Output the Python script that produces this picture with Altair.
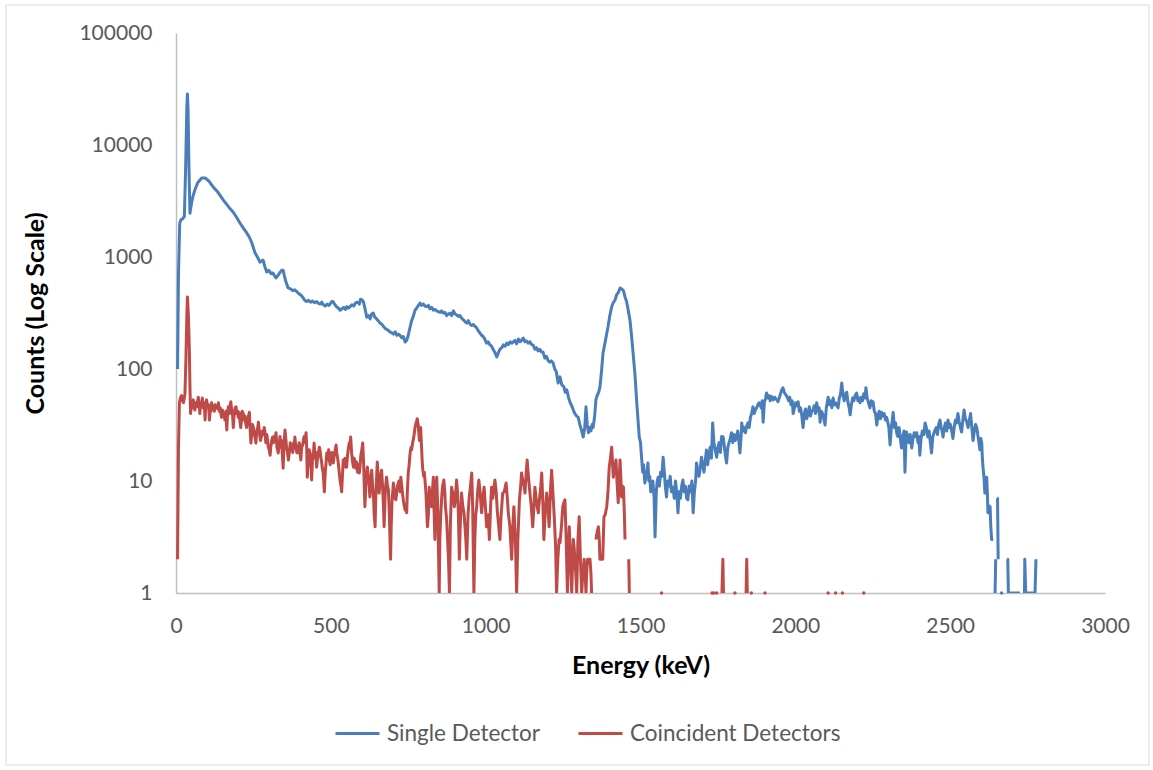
import altair as alt
import pandas as pd

# ---------------- data ----------------
single_E = [5, 8, 12, 16, 22, 27, 31, 35, 37, 39, 42, 45, 50, 55, 61, 70, 83, 94, 105, 120, 135, 153, 170, 185, 196, 207,
            218, 229, 237, 245, 255, 263, 271, 281, 287, 293, 300, 307, 313, 318, 323, 330, 336, 341, 346, 350, 355, 362,
            370, 377, 383, 390, 397, 404, 411, 416, 422, 428, 435, 441, 447, 454, 460, 466, 471, 476, 482, 488, 493, 499,
            503, 507, 512, 518, 524, 530, 536, 542, 547, 552, 557, 562, 568, 574, 580, 586, 592, 596, 600, 605, 610, 616,
            622, 627, 632, 637, 642, 648, 653, 659, 665, 670, 676, 681, 687, 691, 697, 702, 708, 713, 718, 723, 729, 734,
            740, 745, 750, 756, 761, 767, 772, 777, 783, 788, 793, 799, 804, 809, 815, 820, 826, 831, 837, 842, 847, 853,
            858, 863, 869, 874, 880, 885, 890, 896, 901, 906, 912, 917, 922, 928, 933, 939, 944, 950, 955, 960, 966, 971,
            976, 981, 987, 992, 997, 1003, 1008, 1013, 1019, 1024, 1030, 1036, 1041, 1046, 1052, 1057, 1063, 1068, 1073,
            1079, 1084, 1089, 1095, 1100, 1106, 1111, 1116, 1121, 1127, 1132, 1137, 1143, 1148, 1153, 1159, 1164, 1169,
            1175, 1180, 1185, 1191, 1196, 1201, 1207, 1212, 1218, 1223, 1228, 1234, 1240, 1246, 1252, 1257, 1262, 1268,
            1273, 1278, 1283, 1288, 1294, 1299, 1304, 1310, 1315, 1320, 1324, 1328, 1332, 1336, 1340, 1344, 1347, 1352,
            1356, 1360, 1365, 1369, 1374, 1379, 1385, 1390, 1395, 1401, 1407, 1412, 1418, 1423, 1428, 1434, 1439, 1445,
            1450, 1455, 1460, 1466, 1471, 1476, 1482, 1488, 1492, 1496, 1500, 1504, 1507, 1510, 1514, 1518, 1521, 1524,
            1527, 1530, 1533, 1536, 1540, 1544, 1547, 1551, 1554, 1557, 1561, 1565, 1569, 1573, 1577, 1580, 1584, 1588,
            1592, 1596, 1600, 1605, 1609, 1613, 1617, 1621, 1625, 1629, 1633, 1637, 1641, 1645, 1649, 1653, 1657, 1661,
            1666, 1670, 1674, 1678, 1681, 1685, 1689, 1693, 1697, 1701, 1705, 1709, 1713, 1717, 1721, 1725, 1729, 1733,
            1737, 1741, 1746, 1750, 1754, 1758, 1762, 1767, 1771, 1774, 1778, 1782, 1786, 1790, 1794, 1798, 1802, 1806,
            1810, 1814, 1818, 1821, 1825, 1827, 1831, 1835, 1839, 1843, 1847, 1851, 1855, 1859, 1863, 1867, 1871, 1875,
            1879, 1883, 1886, 1890, 1893, 1896, 1900, 1904, 1907, 1911, 1915, 1919, 1923, 1926, 1929, 1933, 1937, 1941,
            1944, 1948, 1952, 1956, 1960, 1964, 1967, 1971, 1975, 1978, 1982, 1986, 1990, 1993, 1997, 2001, 2005, 2009,
            2013, 2017, 2021, 2025, 2029, 2033, 2037, 2041, 2045, 2049, 2053, 2057, 2061, 2065, 2069, 2073, 2077, 2080,
            2084, 2088, 2092, 2096, 2100, 2103, 2106, 2110, 2114, 2118, 2122, 2126, 2130, 2134, 2138, 2142, 2146, 2150,
            2154, 2158, 2162, 2166, 2170, 2174, 2177, 2181, 2185, 2189, 2193, 2198, 2202, 2206, 2209, 2213, 2217, 2221,
            2225, 2228, 2232, 2236, 2241, 2245, 2248, 2251, 2255, 2259, 2263, 2267, 2271, 2275, 2279, 2283, 2287, 2291,
            2295, 2299, 2302, 2306, 2310, 2313, 2316, 2320, 2324, 2327, 2331, 2335, 2339, 2343, 2347, 2351, 2354, 2357,
            2359, 2363, 2367, 2371, 2376, 2380, 2384, 2388, 2392, 2396, 2399, 2402, 2406, 2410, 2415, 2419, 2423, 2428,
            2432, 2436, 2440, 2444, 2448, 2451, 2455, 2459, 2463, 2467, 2471, 2474, 2477, 2481, 2485, 2489, 2493, 2497,
            2501, 2505, 2509, 2513, 2517, 2521, 2525, 2529, 2533, 2537, 2541, 2545, 2549, 2553, 2558, 2562, 2566, 2570,
            2574, 2578, 2582, 2586, 2590, 2593, 2596, 2599, 2602, 2604, 2606, 2609, 2612, 2615, 2618, 2620, 2622, 2625,
            2629, 2631, 2634, 2639,
            2643, 2645, 2647,
            2652, 2653, 2655,
            2684, 2686, 2688, 2700, 2712, 2725,
            2740, 2741, 2744, 2755, 2765, 2774, 2777]
single_counts = [100, 700, 2000, 2150, 2200, 2300, 6000, 22000, 28500, 20000, 6000, 2460, 3000, 3500, 3970, 4600, 5070,
                 5070, 4800, 4220, 3800, 3220, 2800, 2510, 2250, 2000, 1800, 1630, 1500, 1333, 1090, 1000, 900, 940, 820,
                 735, 760, 710, 720, 680, 650, 690, 730, 760, 760, 680, 600, 530, 520, 500, 510, 490, 470, 455, 430, 410,
                 400, 410, 395, 405, 390, 400, 385, 380, 395, 375, 365, 380, 370, 385, 400, 400, 380, 360, 350, 335, 345,
                 355, 340, 360, 350, 360, 375, 365, 390, 395, 380, 420, 415, 400, 350, 290, 300, 280, 310, 316, 290, 280,
                 270, 257, 250, 240, 230, 225, 220, 214, 210, 205, 215, 200, 205, 200, 190, 195, 174, 180, 200, 237, 270,
                 300, 335, 350, 370, 388, 370, 380, 365, 360, 370, 345, 355, 335, 340, 330, 325, 320, 330, 316, 320, 300,
                 310, 315, 300, 330, 310, 305, 295, 300, 285, 275, 265, 257, 270, 250, 245, 250, 240, 233, 220, 210, 200,
                 195, 185, 170, 175, 165, 160, 150, 140, 128, 140, 150, 155, 164, 160, 170, 165, 175, 170, 174, 180, 168,
                 185, 175, 180, 189, 175, 178, 170, 175, 165, 164, 150, 155, 145, 150, 142, 142, 125, 130, 120, 115, 118,
                 113, 100, 95, 75, 85, 72, 70, 62, 65, 55, 50, 47, 43, 40, 38, 37, 32, 28, 24.7, 30, 46, 32, 27, 30, 28, 32,
                 30, 38, 53, 58, 62, 69, 95, 139, 170, 200, 237, 300, 359, 390, 415, 460, 480, 527, 520, 500, 440, 400, 340,
                 273, 200, 139, 90, 50, 35, 24.7, 22, 15.4, 12, 14, 9.6, 11, 12, 14.5, 10, 11, 8, 9.6, 10, 7, 3.16, 8, 10,
                 10.8, 9, 12, 11, 16.3, 12, 9, 7.2, 10, 9, 11, 8, 8.8, 7, 10, 8, 5.2, 8, 7, 9, 10.2, 8, 9, 7, 6.8, 9, 8,
                 10, 5.2, 8, 10, 14.5, 12, 11, 13, 16.3, 14, 12, 15, 18.9, 14, 17, 20, 16, 33, 22, 19, 16.3, 20, 22, 18,
                 25, 24.7, 20, 17, 14.5, 20, 22, 24, 27, 22, 26, 23, 24.7, 28, 22, 17.8, 25, 33, 28, 30, 27, 31, 33, 30,
                 37, 40, 46, 40, 43, 45, 48, 50, 48, 45, 52, 33.5, 50, 55, 61, 55, 58, 52, 57, 55, 53, 56, 54, 53, 51, 55,
                 60, 65, 68, 62, 60, 58, 55, 52, 56, 48, 52, 40, 45, 50, 47, 51, 42, 45, 38, 30, 40, 44, 36, 40, 46, 38,
                 42, 43, 47, 40, 50, 42, 45, 33.5, 42, 40, 36, 31.6, 45, 50, 56, 48, 52, 45, 55, 48, 50, 47, 45, 55, 60,
                 75, 58, 52, 60, 62, 50, 45, 39, 48, 55, 52, 58, 61, 52, 55, 50, 56, 52, 60, 55, 68, 55, 50, 45, 52, 48,
                 51, 42, 40, 31.6, 38, 42, 36, 41, 38, 40, 35, 37, 33, 30, 21, 30, 35, 41, 30, 33, 27, 25, 30, 24, 19.7,
                 25, 28, 12, 22, 27.4, 25, 22, 26, 19.7, 24, 27, 25, 27, 22, 25, 17, 24, 28, 26, 33, 30, 24.7, 28, 22,
                 17.8, 25, 27, 28.5, 30, 26, 32, 35, 30, 28, 24.7, 30, 33, 28, 35, 30, 32, 28, 24, 30, 35, 33, 40, 34, 30,
                 27.4, 35, 43, 36, 34, 30, 35, 40, 30, 23, 28, 32, 30, 25, 22, 19, 24, 21.8, 16, 13.3, 11, 7.8, 9, 10.8,
                 8, 5.2, 6, 5.9, 4, 3, 3,
                 1, 1, 2,
                 7, 7, 2,
                 2, 2, 1, 1, 1, 1,
                 1, 2, 1, 1, 1, 1, 2]

coinc_E = [5, 8, 11, 14, 18, 21, 24, 27, 29, 32, 35, 37, 40, 43, 45, 47, 50, 53, 56, 58, 61, 64, 67, 70, 72, 75, 77, 80,
           82, 85, 88, 91, 94, 96, 99, 102, 105, 108, 111, 113, 115, 118, 121, 124, 126, 129, 132, 135, 137, 140, 143,
           145, 147, 150, 152, 155, 158, 161, 164, 166, 169, 172, 175, 177, 180, 183, 185, 188, 191, 194, 196, 199, 201,
           204, 206, 209, 212, 214, 217, 220, 223, 225, 228, 231, 234, 237, 239, 242, 245, 247, 250, 253, 256, 258, 261,
           264, 266, 269, 271, 273, 276, 279, 282, 285, 287, 290, 293, 295, 298, 301, 304, 306, 309, 312, 315, 318, 320,
           323, 326, 328, 330, 333, 336, 338, 341, 343, 346, 349, 352, 354, 357, 360, 363, 366, 369, 371, 374, 377, 380,
           382, 384, 387, 390, 393, 395, 398, 401, 403, 406, 409, 411, 414, 417, 420, 422, 424, 427, 430, 433, 436, 438,
           441, 444, 446, 449, 452, 454, 457, 460, 463, 465, 468, 470, 472, 475, 477, 479, 482, 485, 487, 490, 493, 495,
           498, 500, 503, 506, 508, 511, 514, 517, 519, 522, 524, 527, 530, 533, 535, 538, 540, 543, 546, 548, 551, 554,
           557, 560, 562, 564, 567, 570, 573, 575, 578, 580, 583, 586, 589, 592, 594, 597, 600, 603, 606, 608, 610, 613,
           616, 618, 621, 623, 626, 629, 632, 635, 638, 640, 643, 645, 648, 650, 653, 656, 659, 661, 664, 667, 670, 672,
           675, 677, 680, 683, 686, 689, 691, 693, 695, 698, 700, 702, 705, 707, 710, 713, 715, 718, 720, 722, 724, 726,
           729, 731, 734, 737, 740, 742, 745, 747, 750, 753, 756, 759, 761, 764, 767, 769, 772, 775, 777, 779, 782, 784,
           786, 788, 790, 793, 795, 797, 800, 802, 804, 807, 809, 812, 815, 818, 820, 823, 826, 828, 831, 833, 836, 838,
           840, 842, 845, 847, 850, 852, 855, 858, 861, 865, 868, 870, 874, 877, 880, 883, 886, 890, 893, 896, 899, 902,
           906, 909, 912, 915, 918, 922, 926, 930, 933, 936, 939, 943, 947, 951, 955, 958, 962, 965, 968, 971, 974, 978,
           982, 987, 991, 995, 999, 1003, 1008, 1012, 1016, 1019, 1023, 1027, 1030, 1034, 1038, 1042, 1046, 1050, 1055,
           1060, 1066, 1070, 1073, 1078, 1084, 1088, 1091, 1096, 1100, 1104, 1109, 1113, 1116, 1120, 1124, 1127, 1131,
           1134, 1138, 1143, 1147, 1152, 1156, 1159, 1163, 1166, 1170, 1174, 1178, 1181, 1185, 1188, 1192, 1197, 1201,
           1205, 1209, 1213, 1217, 1222, 1226, 1229, 1233, 1237, 1240, 1245, 1249, 1253, 1256, 1260, 1264, 1267, 1270,
           1274, 1278, 1281, 1283, 1286, 1288, 1291, 1294, 1298, 1302, 1306, 1310, 1314, 1318, 1321, 1324, 1326, 1329,
           1333, 1337, 1340, 1342,
           1356, 1360, 1364, 1367, 1369, 1374, 1378, 1382, 1386, 1391, 1395, 1399, 1403, 1407, 1410, 1412, 1416, 1421,
           1424, 1428, 1431, 1434, 1437, 1439, 1442, 1445, 1448, 1450,
           1462, 1464,
           1763, 1766, 1768,
           1841, 1843, 1845]
coinc_counts = [2, 20, 50, 55, 58, 52, 50, 55, 61, 120, 300, 440, 300, 157, 70, 40, 48, 45, 53, 48, 43, 50, 46, 52, 56, 48,
                40, 50, 46, 55, 45, 50, 35, 48, 53, 45, 48, 35, 45, 42, 50, 44, 46, 42, 48, 45, 47, 44, 50, 42, 45, 40,
                37, 43, 38, 40, 35, 42, 28.5, 38, 46, 40, 48, 51, 42, 38, 30, 40, 45, 46, 40, 42, 37, 41, 35, 30, 36, 42,
                40, 35, 38, 33, 30, 35, 38, 41, 30, 21.8, 28, 32, 30, 26, 24, 21.8, 28, 30, 33.5, 28, 25, 23, 25, 28, 26,
                30, 28, 22, 26, 24, 20, 19, 17, 20, 23, 24.7, 22, 25, 24, 27, 20, 19, 17.8, 21, 25, 20, 23, 18, 13, 22,
                28.5, 25, 20, 18, 15.4, 18, 22, 19, 20, 18, 22, 21, 24.7, 20, 18, 17.8, 20, 22, 18, 15.4, 20, 21, 23, 25,
                22, 27, 20, 10.8, 15, 19, 17.8, 14, 10.2, 16, 18, 21.8, 16, 18, 13.3, 16, 18, 20, 19, 16, 15, 13.3, 12,
                10, 8, 12, 15, 17.8, 16, 19, 15.4, 14, 16, 18, 15, 14.5, 17, 19, 21, 18, 16, 14.5, 12, 10, 9, 8, 12, 15.4,
                14, 16, 13.3, 13.3, 17, 20, 22, 21, 24.7, 18, 15, 13.3, 16, 15, 13, 14.8, 12, 14, 11.8, 13.3, 17, 19,
                21.8, 14, 9, 5.9, 9, 12, 13.3, 11, 10, 7.2, 10, 12.5, 9, 7, 5, 3.9, 7, 11, 14.8, 11, 7.8, 10, 11, 12.5, 9,
                6, 3.9, 7, 9, 10.8, 9, 8.3, 5, 3, 2, 4, 7, 8, 9.6, 8, 7, 6.8, 8, 9, 9.6, 10, 9, 8, 10.8, 9, 8, 6.8, 6,
                5.5, 6, 5.2, 8, 11.8, 14, 17.8, 20, 19, 21.8, 24, 26, 30, 33, 34, 36, 32, 27, 23, 26, 30, 20, 15, 12.5,
                11, 12, 10.2, 8, 6, 3.9, 5, 8.8, 7, 6, 5.9, 8, 10.8, 6, 3, 5, 9, 10.8, 6, 3, 1, 3, 5, 7.2, 9, 10.2, 8, 6,
                4.5, 3, 2, 1, 4, 8.8, 8, 7, 5.9, 7, 10.2, 8, 5, 2, 4, 7.8, 6, 5.2, 4, 3, 2, 5, 7.2, 9, 11.8, 6, 1, 3, 5,
                5.9, 8, 10.2, 8, 5.2, 7, 8.8, 6, 3.9, 5, 3, 6, 8.8, 7, 9, 10.2, 8, 5.2, 4, 3, 5, 7.8, 8, 9.6, 7, 5.2, 4,
                2, 4, 5.9, 3, 1, 3, 6.8, 9, 11.8, 10, 9, 7.8, 12, 15.4, 11, 7.8, 6, 3.9, 6, 8.8, 7, 6, 5.2, 7, 9, 11.8, 6,
                3, 5, 7.8, 6, 3.9, 8, 12.5, 8, 4.5, 2.5, 1, 2, 3, 2.8, 4, 5.9, 6.5, 6.8, 3, 1, 2, 3.9, 2, 1, 2, 3, 2.5, 2,
                1.5, 1, 3, 4.8, 2, 1, 1.5, 2, 1.5, 1, 1.5, 2, 2, 2, 1.5, 1,
                3, 3.5, 3.9, 3, 2, 2, 2, 4.8, 5, 5.9, 8, 13.3, 16, 20, 14, 10.8, 13, 15.4, 10, 6.4, 10, 15.4, 10, 7.2, 9,
                8.8, 5, 3,
                2, 1,
                1, 2, 1,
                1, 2, 1]

# single channels with one count between empty channels (drawn as dots on the axis)
single_dot_E = [2666]
coinc_dot_E = [1568, 1731, 1737, 1746, 1805, 1858, 1902, 2106, 2130, 2152, 2221]

# last channel before each run of empty channels
single_gaps = [2639, 2647, 2655, 2725]
coinc_gaps = [1342, 1450, 1464, 1768]

SERIES = ["Single Detector", "Coincident Detectors"]
COLORS = ["#4A7EBB", "#BE4B48"]


def segments(E, gap_after):
    """split a spectrum into runs separated by empty channels"""
    seg, out = 0, []
    for e in E:
        out.append(seg)
        if e in gap_after:
            seg += 1
    return out


single_df = pd.DataFrame({"E": single_E, "counts": single_counts, "seg": segments(single_E, single_gaps)})
single_df["series"] = SERIES[0]
coinc_df = pd.DataFrame({"E": coinc_E, "counts": coinc_counts, "seg": segments(coinc_E, coinc_gaps)})
coinc_df["series"] = SERIES[1]

dots = pd.concat([
    pd.DataFrame({"E": single_dot_E, "counts": 1, "series": SERIES[0]}),
    pd.DataFrame({"E": coinc_dot_E, "counts": 1, "series": SERIES[1]}),
])

FONT = "Lato"
x_enc = alt.X("E:Q", scale=alt.Scale(domain=[0, 3000], nice=False),
              axis=alt.Axis(values=[0, 500, 1000, 1500, 2000, 2500, 3000], format="d", title="Energy (keV)",
                            labelPadding=22, titlePadding=17, labelFlush=False, labelOverlap=False))
y_enc = alt.Y("counts:Q", scale=alt.Scale(type="log", domain=[1, 100000], nice=False),
              axis=alt.Axis(values=[1, 10, 100, 1000, 10000, 100000], format="d", title="Counts (Log Scale)",
                            labelPadding=24, titlePadding=30, labelFlush=False, labelOverlap=False))
color_enc = alt.Color("series:N", scale=alt.Scale(domain=SERIES, range=COLORS),
                      legend=alt.Legend(title=None, orient="none", legendX=158, legendY=677,
                                        direction="horizontal", symbolType="stroke", symbolSize=1936,
                                        symbolStrokeWidth=3, labelFontSize=22.5, labelFont=FONT,
                                        labelColor="#595959", columnPadding=31, labelOffset=6, labelLimit=400))

single_line = alt.Chart(single_df).mark_line(strokeWidth=3, strokeJoin="round", clip=True).encode(
    x=x_enc, y=y_enc, color=color_enc, detail="seg:N", order="E:Q")
coinc_line = alt.Chart(coinc_df).mark_line(strokeWidth=3, strokeJoin="round", clip=True).encode(
    x="E:Q", y="counts:Q", color="series:N", detail="seg:N", order="E:Q")
dot_layer = alt.Chart(dots).mark_circle(size=12, opacity=1).encode(
    x="E:Q", y="counts:Q", color="series:N")

frame = alt.Chart(pd.DataFrame({"k": [0]})).mark_rect(fill=None, stroke="#D9D9D9", strokeWidth=1, clip=False).encode(
    x=alt.value(-170), x2=alt.value(973), y=alt.value(-28), y2=alt.value(732))

chart = alt.layer(frame, single_line, coinc_line, dot_layer).properties(
    width=929, height=560,
    autosize=alt.AutoSizeParams(type="none"),
    padding={"left": 176, "top": 33, "right": 48, "bottom": 177},
    background="white",
).configure_view(stroke=None).configure_axis(
    grid=False, ticks=False, domainColor="#BFBFBF", domainWidth=1.5,
    labelFont=FONT, labelFontSize=21, labelColor="#595959",
    titleFont=FONT, titleFontSize=25, titleFontWeight="bold", titleColor="#000000",
)

chart.save("out.html", embed_options={"renderer": "svg", "actions": False})
